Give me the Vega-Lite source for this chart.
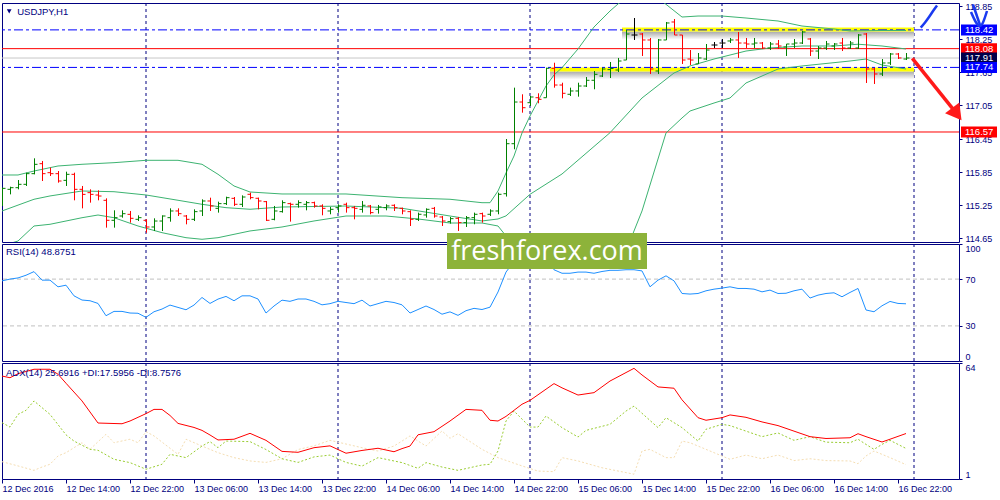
{
"$schema": "https://vega.github.io/schema/vega-lite/v6.json",
"background": "white",
"padding": {"left": 1, "top": -2, "right": 0, "bottom": 0},
"spacing": 2,
"bounds": "flush",
"config": {
  "view": {"stroke": "#000080", "strokeWidth": 1},
  "axis": {"labelFont": "Liberation Sans", "labelFontSize": 9, "labelColor": "#000080", "tickColor": "#000080", "labelOverlap": false},
  "text": {"font": "Liberation Sans"}
},
"datasets": {
  "seps": [{"bar": 18}, {"bar": 42}, {"bar": 66}, {"bar": 90}, {"bar": 114}],
  "zones": [{"start": 77.5, "end": 114, "high": 118.463, "low": 118.39}, {"start": 68.5, "end": 114, "high": 117.74, "low": 117.668}],
  "levels": [{"price": 118.42, "kind": "level"}, {"price": 118.08, "kind": "red"}, {"price": 117.91, "kind": "bid"}, {"price": 117.74, "kind": "level"}, {"price": 116.57, "kind": "red"}],
  "arrows": [
    {"id": "red", "k": 0, "bar": 113.79, "price": 117.905}, {"id": "red", "k": 1, "bar": 119.36, "price": 116.897},
    {"id": "blueA", "k": 0, "bar": 114.84, "price": 118.46}, {"id": "blueA", "k": 1, "bar": 115.38, "price": 118.554}, {"id": "blueA", "k": 2, "bar": 115.88, "price": 118.653}, {"id": "blueA", "k": 3, "bar": 116.38, "price": 118.762}, {"id": "blueA", "k": 4, "bar": 116.88, "price": 118.862},
    {"id": "blueB", "k": 0, "bar": 121.375, "price": 118.88}, {"id": "blueB", "k": 1, "bar": 122.25, "price": 118.508},
    {"id": "blueC", "k": 0, "bar": 121.125, "price": 118.744}, {"id": "blueC", "k": 1, "bar": 122.25, "price": 118.49}, {"id": "blueC", "k": 2, "bar": 123.125, "price": 118.762}
  ],
  "bars": [
    {"bar":0,"open":115.501,"high":115.561,"low":115.229,"close":115.549},
    {"bar":1,"open":115.531,"high":115.579,"low":115.44,"close":115.561},
    {"bar":2,"open":115.561,"high":115.7,"low":115.531,"close":115.622},
    {"bar":3,"open":115.622,"high":115.833,"low":115.592,"close":115.815},
    {"bar":4,"open":115.815,"high":116.093,"low":115.803,"close":115.984},
    {"bar":5,"open":115.996,"high":116.045,"low":115.682,"close":115.815},
    {"bar":6,"open":115.833,"high":115.924,"low":115.773,"close":115.815},
    {"bar":7,"open":115.815,"high":115.863,"low":115.652,"close":115.682},
    {"bar":8,"open":115.694,"high":115.851,"low":115.592,"close":115.803},
    {"bar":9,"open":115.803,"high":115.833,"low":115.332,"close":115.531},
    {"bar":10,"open":115.531,"high":115.592,"low":115.187,"close":115.44},
    {"bar":11,"open":115.471,"high":115.531,"low":115.29,"close":115.44},
    {"bar":12,"open":115.428,"high":115.513,"low":115.332,"close":115.41},
    {"bar":13,"open":115.332,"high":115.368,"low":114.837,"close":114.97},
    {"bar":14,"open":114.97,"high":115.151,"low":114.837,"close":115.018},
    {"bar":15,"open":115.048,"high":115.151,"low":115.018,"close":115.09},
    {"bar":16,"open":115.078,"high":115.139,"low":114.927,"close":115.006},
    {"bar":17,"open":114.988,"high":115.06,"low":114.957,"close":115.018},
    {"bar":18,"open":114.97,"high":114.988,"low":114.746,"close":114.849},
    {"bar":19,"open":114.849,"high":115.006,"low":114.776,"close":114.957},
    {"bar":20,"open":114.957,"high":115.06,"low":114.776,"close":115.048},
    {"bar":21,"open":115.018,"high":115.187,"low":114.945,"close":115.139},
    {"bar":22,"open":115.139,"high":115.187,"low":115.048,"close":115.09},
    {"bar":23,"open":115.048,"high":115.066,"low":114.897,"close":114.988},
    {"bar":24,"open":114.988,"high":115.169,"low":114.957,"close":115.127},
    {"bar":25,"open":115.139,"high":115.35,"low":115.048,"close":115.32},
    {"bar":26,"open":115.32,"high":115.38,"low":115.139,"close":115.229},
    {"bar":27,"open":115.187,"high":115.308,"low":115.109,"close":115.272},
    {"bar":28,"open":115.272,"high":115.398,"low":115.247,"close":115.38},
    {"bar":29,"open":115.368,"high":115.392,"low":115.229,"close":115.26},
    {"bar":30,"open":115.26,"high":115.422,"low":115.211,"close":115.392},
    {"bar":31,"open":115.441,"high":115.471,"low":115.35,"close":115.381},
    {"bar":32,"open":115.369,"high":115.381,"low":115.169,"close":115.32},
    {"bar":33,"open":115.308,"high":115.32,"low":114.958,"close":114.97},
    {"bar":34,"open":114.988,"high":115.23,"low":114.97,"close":115.139},
    {"bar":35,"open":115.127,"high":115.332,"low":115.109,"close":115.29},
    {"bar":36,"open":115.272,"high":115.29,"low":114.946,"close":115.26},
    {"bar":37,"open":115.26,"high":115.332,"low":115.199,"close":115.29},
    {"bar":38,"open":115.26,"high":115.32,"low":115.151,"close":115.29},
    {"bar":39,"open":115.29,"high":115.308,"low":115.199,"close":115.23},
    {"bar":40,"open":115.23,"high":115.26,"low":115.061,"close":115.187},
    {"bar":41,"open":115.139,"high":115.212,"low":115.079,"close":115.169},
    {"bar":42,"open":115.199,"high":115.26,"low":115.109,"close":115.23},
    {"bar":43,"open":115.26,"high":115.29,"low":115.109,"close":115.199},
    {"bar":44,"open":115.199,"high":115.23,"low":114.988,"close":115.187},
    {"bar":45,"open":115.169,"high":115.32,"low":115.109,"close":115.242},
    {"bar":46,"open":115.23,"high":115.248,"low":115.079,"close":115.109},
    {"bar":47,"open":115.169,"high":115.248,"low":115.091,"close":115.212},
    {"bar":48,"open":115.199,"high":115.26,"low":115.151,"close":115.23},
    {"bar":49,"open":115.242,"high":115.26,"low":115.139,"close":115.199},
    {"bar":50,"open":115.187,"high":115.199,"low":115.079,"close":115.139},
    {"bar":51,"open":115.127,"high":115.151,"low":114.867,"close":114.988},
    {"bar":52,"open":114.988,"high":115.109,"low":114.958,"close":115.079},
    {"bar":53,"open":115.067,"high":115.187,"low":115.018,"close":115.169},
    {"bar":54,"open":115.187,"high":115.212,"low":115.018,"close":115.048},
    {"bar":55,"open":115.03,"high":115.048,"low":114.867,"close":114.958},
    {"bar":56,"open":114.946,"high":115.03,"low":114.91,"close":115.0},
    {"bar":57,"open":115.006,"high":115.03,"low":114.777,"close":114.928},
    {"bar":58,"open":114.928,"high":115.048,"low":114.849,"close":115.018},
    {"bar":59,"open":115.018,"high":115.109,"low":114.898,"close":115.079},
    {"bar":60,"open":115.091,"high":115.109,"low":114.928,"close":115.048},
    {"bar":61,"open":115.079,"high":115.169,"low":115.048,"close":115.139},
    {"bar":62,"open":115.139,"high":115.471,"low":115.079,"close":115.441},
    {"bar":63,"open":115.452,"high":116.443,"low":115.4,"close":116.358},
    {"bar":64,"open":116.358,"high":117.373,"low":116.257,"close":117.113},
    {"bar":65,"open":117.113,"high":117.253,"low":116.92,"close":117.01},
    {"bar":66,"open":117.101,"high":117.222,"low":117.041,"close":117.204},
    {"bar":67,"open":117.191,"high":117.271,"low":117.09,"close":117.162},
    {"bar":68,"open":117.191,"high":117.735,"low":117.191,"close":117.724},
    {"bar":69,"open":117.724,"high":117.825,"low":117.373,"close":117.421},
    {"bar":70,"open":117.421,"high":117.463,"low":117.18,"close":117.271},
    {"bar":71,"open":117.253,"high":117.373,"low":117.222,"close":117.313},
    {"bar":72,"open":117.313,"high":117.463,"low":117.21,"close":117.403},
    {"bar":73,"open":117.403,"high":117.566,"low":117.385,"close":117.507},
    {"bar":74,"open":117.507,"high":117.675,"low":117.344,"close":117.615},
    {"bar":75,"open":117.584,"high":117.735,"low":117.566,"close":117.711},
    {"bar":76,"open":117.7,"high":117.838,"low":117.548,"close":117.72},
    {"bar":77,"open":117.693,"high":117.911,"low":117.657,"close":117.856},
    {"bar":78,"open":117.874,"high":118.418,"low":117.874,"close":118.345},
    {"bar":79,"open":118.327,"high":118.635,"low":118.237,"close":118.327},
    {"bar":80,"open":118.345,"high":118.363,"low":117.947,"close":118.237},
    {"bar":81,"open":118.237,"high":118.273,"low":117.621,"close":117.711},
    {"bar":82,"open":117.675,"high":118.255,"low":117.621,"close":118.237},
    {"bar":83,"open":118.237,"high":118.563,"low":118.237,"close":118.545},
    {"bar":84,"open":118.563,"high":118.617,"low":118.327,"close":118.327},
    {"bar":85,"open":118.327,"high":118.327,"low":117.802,"close":117.874},
    {"bar":86,"open":117.892,"high":118.055,"low":117.784,"close":117.874},
    {"bar":87,"open":117.802,"high":118.001,"low":117.802,"close":117.911},
    {"bar":88,"open":117.892,"high":118.164,"low":117.874,"close":118.055},
    {"bar":89,"open":118.146,"high":118.2,"low":118.092,"close":118.146},
    {"bar":90,"open":118.182,"high":118.255,"low":118.092,"close":118.182},
    {"bar":91,"open":118.219,"high":118.273,"low":118.182,"close":118.237},
    {"bar":92,"open":118.237,"high":118.382,"low":117.911,"close":118.182},
    {"bar":93,"open":118.182,"high":118.273,"low":118.092,"close":118.164},
    {"bar":94,"open":118.164,"high":118.273,"low":118.092,"close":118.182},
    {"bar":95,"open":118.182,"high":118.2,"low":118.074,"close":118.092},
    {"bar":96,"open":118.092,"high":118.2,"low":118.056,"close":118.164},
    {"bar":97,"open":118.164,"high":118.237,"low":118.074,"close":118.128},
    {"bar":98,"open":118.11,"high":118.164,"low":117.947,"close":118.164},
    {"bar":99,"open":118.164,"high":118.255,"low":118.092,"close":118.182},
    {"bar":100,"open":118.182,"high":118.4,"low":118.164,"close":118.382},
    {"bar":101,"open":118.255,"high":118.273,"low":117.947,"close":118.037},
    {"bar":102,"open":118.037,"high":118.128,"low":117.892,"close":118.092},
    {"bar":103,"open":118.092,"high":118.219,"low":118.056,"close":118.164},
    {"bar":104,"open":118.128,"high":118.182,"low":118.056,"close":118.164},
    {"bar":105,"open":118.182,"high":118.273,"low":118.037,"close":118.092},
    {"bar":106,"open":118.092,"high":118.219,"low":118.074,"close":118.182},
    {"bar":107,"open":118.092,"high":118.345,"low":118.074,"close":118.327},
    {"bar":108,"open":118.345,"high":118.363,"low":117.458,"close":117.711},
    {"bar":109,"open":117.711,"high":117.729,"low":117.44,"close":117.621},
    {"bar":110,"open":117.621,"high":117.892,"low":117.584,"close":117.82},
    {"bar":111,"open":117.82,"high":118.001,"low":117.784,"close":117.983},
    {"bar":112,"open":117.983,"high":118.001,"low":117.892,"close":117.911},
    {"bar":113,"open":117.892,"high":118.001,"low":117.874,"close":117.91}
  ],
  "bands": [
    {"bar":0,"band":"u","value":115.791},{"bar":2,"band":"u","value":115.791},{"bar":4,"band":"u","value":115.863},{"bar":7,"band":"u","value":115.954},{"bar":10,"band":"u","value":115.985},{"bar":14,"band":"u","value":116.014},{"bar":18,"band":"u","value":116.057},{"bar":22,"band":"u","value":116.057},{"bar":25,"band":"u","value":115.985},{"bar":27,"band":"u","value":115.804},{"bar":29,"band":"u","value":115.592},{"bar":31,"band":"u","value":115.483},{"bar":35,"band":"u","value":115.447},{"bar":43,"band":"u","value":115.447},{"bar":50,"band":"u","value":115.38},{"bar":56,"band":"u","value":115.351},{"bar":60,"band":"u","value":115.289},{"bar":61,"band":"u","value":115.289},{"bar":62,"band":"u","value":115.501},{"bar":63,"band":"u","value":115.827},{"bar":64,"band":"u","value":116.135},{"bar":65,"band":"u","value":116.552},{"bar":66,"band":"u","value":116.86},{"bar":67,"band":"u","value":117.132},{"bar":68,"band":"u","value":117.403},{"bar":69,"band":"u","value":117.603},{"bar":70,"band":"u","value":117.735},{"bar":72,"band":"u","value":118.074},{"bar":74,"band":"u","value":118.472},{"bar":76,"band":"u","value":118.762},{"bar":77,"band":"u","value":118.889},{"bar":78,"band":"u","value":118.998},{"bar":80,"band":"u","value":119.088},{"bar":82,"band":"u","value":118.998},{"bar":83,"band":"u","value":118.883},{"bar":85,"band":"u","value":118.653},{"bar":87,"band":"u","value":118.671},{"bar":90,"band":"u","value":118.671},{"bar":93,"band":"u","value":118.635},{"bar":97,"band":"u","value":118.581},{"bar":100,"band":"u","value":118.49},{"bar":104,"band":"u","value":118.436},{"bar":106,"band":"u","value":118.4},{"bar":110,"band":"u","value":118.409},{"bar":113,"band":"u","value":118.409},
    {"bar":0,"band":"m","value":115.139},{"bar":4,"band":"m","value":115.351},{"bar":6,"band":"m","value":115.411},{"bar":10,"band":"m","value":115.501},{"bar":14,"band":"m","value":115.488},{"bar":18,"band":"m","value":115.429},{"bar":22,"band":"m","value":115.333},{"bar":25,"band":"m","value":115.26},{"bar":28,"band":"m","value":115.199},{"bar":31,"band":"m","value":115.17},{"bar":35,"band":"m","value":115.211},{"bar":43,"band":"m","value":115.229},{"bar":50,"band":"m","value":115.188},{"bar":56,"band":"m","value":115.048},{"bar":60,"band":"m","value":114.958},{"bar":62,"band":"m","value":114.994},{"bar":63,"band":"m","value":115.05},{"bar":66,"band":"m","value":115.441},{"bar":70,"band":"m","value":115.809},{"bar":76,"band":"m","value":116.557},{"bar":80,"band":"m","value":117.186},{"bar":84,"band":"m","value":117.639},{"bar":86,"band":"m","value":117.766},{"bar":89,"band":"m","value":117.892},{"bar":93,"band":"m","value":118.037},{"bar":96,"band":"m","value":118.092},{"bar":100,"band":"m","value":118.128},{"bar":104,"band":"m","value":118.128},{"bar":107,"band":"m","value":118.16},{"bar":110,"band":"m","value":118.128},{"bar":113,"band":"m","value":118.074},
    {"bar":0,"band":"l","value":114.505},{"bar":2,"band":"l","value":114.595},{"bar":4,"band":"l","value":114.867},{"bar":6,"band":"l","value":114.898},{"bar":10,"band":"l","value":115.017},{"bar":12,"band":"l","value":115.066},{"bar":14,"band":"l","value":115.017},{"bar":17,"band":"l","value":114.867},{"bar":20,"band":"l","value":114.746},{"bar":23,"band":"l","value":114.655},{"bar":25,"band":"l","value":114.626},{"bar":27,"band":"l","value":114.655},{"bar":31,"band":"l","value":114.777},{"bar":35,"band":"l","value":114.849},{"bar":39,"band":"l","value":114.958},{"bar":43,"band":"l","value":115.048},{"bar":48,"band":"l","value":115.048},{"bar":52,"band":"l","value":114.994},{"bar":56,"band":"l","value":114.921},{"bar":60,"band":"l","value":114.921},{"bar":62,"band":"l","value":114.867},{"bar":64,"band":"l","value":114.505},{"bar":68,"band":"l","value":114.052},{"bar":74,"band":"l","value":113.961},{"bar":78,"band":"l","value":114.414},{"bar":80,"band":"l","value":115.139},{"bar":83,"band":"l","value":116.552},{"bar":85,"band":"l","value":116.824},{"bar":86,"band":"l","value":116.95},{"bar":89,"band":"l","value":117.095},{"bar":91,"band":"l","value":117.186},{"bar":93,"band":"l","value":117.458},{"bar":97,"band":"l","value":117.711},{"bar":100,"band":"l","value":117.766},{"bar":106,"band":"l","value":117.856},{"bar":108,"band":"l","value":117.892},{"bar":110,"band":"l","value":117.784},{"bar":113,"band":"l","value":117.711}
  ],
  "rsi": [
    {"bar":0,"rsi":68.5},{"bar":1,"rsi":70},{"bar":2,"rsi":71},{"bar":3,"rsi":73.3},{"bar":4,"rsi":76.4},{"bar":5,"rsi":69.1},{"bar":6,"rsi":69.1},{"bar":7,"rsi":63.4},{"bar":8,"rsi":64.8},{"bar":9,"rsi":55.7},{"bar":10,"rsi":52.1},{"bar":11,"rsi":51.5},{"bar":12,"rsi":49.2},{"bar":13,"rsi":38.7},{"bar":14,"rsi":42.4},{"bar":15,"rsi":42.4},{"bar":16,"rsi":41},{"bar":17,"rsi":40.8},{"bar":18,"rsi":37.3},{"bar":19,"rsi":42.1},{"bar":20,"rsi":44.4},{"bar":21,"rsi":47.8},{"bar":22,"rsi":45.8},{"bar":23,"rsi":43.8},{"bar":24,"rsi":47.8},{"bar":25,"rsi":54.3},{"bar":26,"rsi":49.2},{"bar":27,"rsi":52.9},{"bar":28,"rsi":55.2},{"bar":29,"rsi":51.5},{"bar":30,"rsi":55.7},{"bar":31,"rsi":55.7},{"bar":32,"rsi":53},{"bar":33,"rsi":41},{"bar":34,"rsi":47},{"bar":35,"rsi":52},{"bar":36,"rsi":51},{"bar":37,"rsi":53},{"bar":38,"rsi":53},{"bar":39,"rsi":51},{"bar":40,"rsi":48},{"bar":41,"rsi":49},{"bar":42,"rsi":51},{"bar":43,"rsi":50},{"bar":44,"rsi":49},{"bar":45,"rsi":52},{"bar":46,"rsi":47},{"bar":47,"rsi":49},{"bar":48,"rsi":51},{"bar":49,"rsi":50},{"bar":50,"rsi":48},{"bar":51,"rsi":41},{"bar":52,"rsi":44},{"bar":53,"rsi":47},{"bar":54,"rsi":44},{"bar":55,"rsi":40},{"bar":56,"rsi":42},{"bar":57,"rsi":39},{"bar":58,"rsi":43},{"bar":59,"rsi":45},{"bar":60,"rsi":44},{"bar":61,"rsi":46},{"bar":62,"rsi":59},{"bar":63,"rsi":76},{"bar":64,"rsi":85},{"bar":65,"rsi":81},{"bar":66,"rsi":83},{"bar":67,"rsi":82},{"bar":68,"rsi":87},{"bar":69,"rsi":78},{"bar":70,"rsi":75},{"bar":71,"rsi":75},{"bar":72,"rsi":76},{"bar":73,"rsi":76},{"bar":74,"rsi":75},{"bar":75,"rsi":76.5},{"bar":76,"rsi":77.5},{"bar":77,"rsi":77.5},{"bar":78,"rsi":78},{"bar":79,"rsi":78},{"bar":80,"rsi":77},{"bar":81,"rsi":63.4},{"bar":82,"rsi":69.1},{"bar":83,"rsi":72.8},{"bar":84,"rsi":68.5},{"bar":85,"rsi":57.7},{"bar":86,"rsi":57.2},{"bar":87,"rsi":57.7},{"bar":88,"rsi":60},{"bar":89,"rsi":61.4},{"bar":90,"rsi":62.3},{"bar":91,"rsi":63.4},{"bar":92,"rsi":62},{"bar":93,"rsi":62},{"bar":94,"rsi":61.4},{"bar":95,"rsi":59.1},{"bar":96,"rsi":60.6},{"bar":97,"rsi":57.7},{"bar":98,"rsi":57.9},{"bar":99,"rsi":60},{"bar":100,"rsi":61.4},{"bar":101,"rsi":53.8},{"bar":102,"rsi":56.3},{"bar":103,"rsi":57.7},{"bar":104,"rsi":58.3},{"bar":105,"rsi":54.9},{"bar":106,"rsi":58.6},{"bar":107,"rsi":62},{"bar":108,"rsi":43.6},{"bar":109,"rsi":42.1},{"bar":110,"rsi":47.2},{"bar":111,"rsi":50.9},{"bar":112,"rsi":49.2},{"bar":113,"rsi":48.9}
  ],
  "dmi": [
    {"bar":0,"line":"adx","value":56.9},{"bar":1,"line":"adx","value":56},{"bar":2,"line":"adx","value":58.2},{"bar":4,"line":"adx","value":60.6},{"bar":6,"line":"adx","value":60.6},{"bar":7,"line":"adx","value":57.9},{"bar":8,"line":"adx","value":53},{"bar":10,"line":"adx","value":43.4},{"bar":12,"line":"adx","value":31.4},{"bar":15,"line":"adx","value":31},{"bar":16,"line":"adx","value":32.5},{"bar":18,"line":"adx","value":36.5},{"bar":19,"line":"adx","value":38.8},{"bar":20,"line":"adx","value":38.8},{"bar":21,"line":"adx","value":35.5},{"bar":22,"line":"adx","value":31.2},{"bar":24,"line":"adx","value":29},{"bar":25,"line":"adx","value":27.4},{"bar":26,"line":"adx","value":24.9},{"bar":27,"line":"adx","value":22.2},{"bar":29,"line":"adx","value":22.6},{"bar":31,"line":"adx","value":25.8},{"bar":33,"line":"adx","value":22},{"bar":35,"line":"adx","value":16},{"bar":37,"line":"adx","value":15.5},{"bar":39,"line":"adx","value":18},{"bar":41,"line":"adx","value":19},{"bar":43,"line":"adx","value":15},{"bar":45,"line":"adx","value":16.5},{"bar":47,"line":"adx","value":17.7},{"bar":49,"line":"adx","value":15.8},{"bar":50,"line":"adx","value":17.5},{"bar":51,"line":"adx","value":18.9},{"bar":52,"line":"adx","value":25},{"bar":54,"line":"adx","value":26.7},{"bar":56,"line":"adx","value":32.5},{"bar":58,"line":"adx","value":38.8},{"bar":60,"line":"adx","value":38.3},{"bar":61,"line":"adx","value":32.9},{"bar":62,"line":"adx","value":32.5},{"bar":63,"line":"adx","value":35},{"bar":65,"line":"adx","value":41.6},{"bar":66,"line":"adx","value":43.7},{"bar":69,"line":"adx","value":52.8},{"bar":70,"line":"adx","value":50.5},{"bar":72,"line":"adx","value":46.6},{"bar":74,"line":"adx","value":47.9},{"bar":76,"line":"adx","value":54.2},{"bar":79,"line":"adx","value":61.1},{"bar":80,"line":"adx","value":57.5},{"bar":82,"line":"adx","value":51},{"bar":84,"line":"adx","value":50.3},{"bar":85,"line":"adx","value":44},{"bar":87,"line":"adx","value":34.3},{"bar":88,"line":"adx","value":32.9},{"bar":90,"line":"adx","value":34.3},{"bar":91,"line":"adx","value":35.8},{"bar":93,"line":"adx","value":34.5},{"bar":95,"line":"adx","value":32},{"bar":97,"line":"adx","value":30},{"bar":99,"line":"adx","value":27},{"bar":101,"line":"adx","value":24},{"bar":103,"line":"adx","value":23},{"bar":106,"line":"adx","value":23.4},{"bar":107,"line":"adx","value":25.6},{"bar":108,"line":"adx","value":24},{"bar":110,"line":"adx","value":21.1},{"bar":111,"line":"adx","value":22.6},{"bar":113,"line":"adx","value":25.7},
    {"bar":0,"line":"pdi","value":31.6},{"bar":1,"line":"pdi","value":29.2},{"bar":2,"line":"pdi","value":36.1},{"bar":3,"line":"pdi","value":38.3},{"bar":4,"line":"pdi","value":43.4},{"bar":6,"line":"pdi","value":36.1},{"bar":8,"line":"pdi","value":25},{"bar":9,"line":"pdi","value":21.6},{"bar":11,"line":"pdi","value":17.1},{"bar":12,"line":"pdi","value":16.6},{"bar":14,"line":"pdi","value":11.7},{"bar":16,"line":"pdi","value":9.9},{"bar":18,"line":"pdi","value":6.3},{"bar":20,"line":"pdi","value":9},{"bar":21,"line":"pdi","value":14.4},{"bar":22,"line":"pdi","value":13.5},{"bar":23,"line":"pdi","value":12.6},{"bar":25,"line":"pdi","value":18.9},{"bar":26,"line":"pdi","value":21.3},{"bar":27,"line":"pdi","value":18},{"bar":28,"line":"pdi","value":21.6},{"bar":31,"line":"pdi","value":21.3},{"bar":33,"line":"pdi","value":17},{"bar":35,"line":"pdi","value":12},{"bar":37,"line":"pdi","value":10},{"bar":39,"line":"pdi","value":13},{"bar":41,"line":"pdi","value":14},{"bar":43,"line":"pdi","value":10},{"bar":45,"line":"pdi","value":8},{"bar":47,"line":"pdi","value":12.6},{"bar":50,"line":"pdi","value":9.9},{"bar":52,"line":"pdi","value":6.8},{"bar":53,"line":"pdi","value":9.9},{"bar":55,"line":"pdi","value":7.5},{"bar":57,"line":"pdi","value":5.7},{"bar":60,"line":"pdi","value":8.6},{"bar":61,"line":"pdi","value":9},{"bar":62,"line":"pdi","value":16.2},{"bar":63,"line":"pdi","value":32.5},{"bar":64,"line":"pdi","value":37.9},{"bar":66,"line":"pdi","value":29.2},{"bar":67,"line":"pdi","value":29.2},{"bar":68,"line":"pdi","value":35.2},{"bar":70,"line":"pdi","value":28.9},{"bar":72,"line":"pdi","value":23.8},{"bar":73,"line":"pdi","value":27.4},{"bar":76,"line":"pdi","value":30.7},{"bar":78,"line":"pdi","value":37.9},{"bar":79,"line":"pdi","value":40.6},{"bar":82,"line":"pdi","value":28.9},{"bar":83,"line":"pdi","value":34.3},{"bar":85,"line":"pdi","value":28.9},{"bar":87,"line":"pdi","value":21.6},{"bar":88,"line":"pdi","value":28},{"bar":90,"line":"pdi","value":30.7},{"bar":91,"line":"pdi","value":30},{"bar":93,"line":"pdi","value":27},{"bar":95,"line":"pdi","value":24},{"bar":97,"line":"pdi","value":26},{"bar":99,"line":"pdi","value":22},{"bar":101,"line":"pdi","value":24},{"bar":103,"line":"pdi","value":21},{"bar":106,"line":"pdi","value":20.7},{"bar":107,"line":"pdi","value":22.6},{"bar":108,"line":"pdi","value":19.8},{"bar":109,"line":"pdi","value":17.1},{"bar":110,"line":"pdi","value":19.8},{"bar":111,"line":"pdi","value":22},{"bar":112,"line":"pdi","value":19.8},{"bar":113,"line":"pdi","value":17.6},
    {"bar":0,"line":"mdi","value":10.4},{"bar":2,"line":"mdi","value":8.1},{"bar":4,"line":"mdi","value":5.7},{"bar":5,"line":"mdi","value":7.5},{"bar":6,"line":"mdi","value":9},{"bar":7,"line":"mdi","value":13.5},{"bar":8,"line":"mdi","value":15.3},{"bar":10,"line":"mdi","value":20.7},{"bar":11,"line":"mdi","value":17.1},{"bar":13,"line":"mdi","value":25.3},{"bar":14,"line":"mdi","value":20.7},{"bar":16,"line":"mdi","value":22.6},{"bar":17,"line":"mdi","value":20.7},{"bar":18,"line":"mdi","value":26.7},{"bar":19,"line":"mdi","value":24.4},{"bar":21,"line":"mdi","value":17.7},{"bar":22,"line":"mdi","value":14.4},{"bar":23,"line":"mdi","value":22.6},{"bar":25,"line":"mdi","value":18.9},{"bar":27,"line":"mdi","value":15.3},{"bar":29,"line":"mdi","value":12.6},{"bar":31,"line":"mdi","value":10.8},{"bar":33,"line":"mdi","value":10},{"bar":35,"line":"mdi","value":12},{"bar":37,"line":"mdi","value":17},{"bar":39,"line":"mdi","value":19},{"bar":41,"line":"mdi","value":22},{"bar":43,"line":"mdi","value":20},{"bar":45,"line":"mdi","value":18},{"bar":47,"line":"mdi","value":16.2},{"bar":49,"line":"mdi","value":18.9},{"bar":50,"line":"mdi","value":21.6},{"bar":51,"line":"mdi","value":24.4},{"bar":53,"line":"mdi","value":18.9},{"bar":55,"line":"mdi","value":27.1},{"bar":56,"line":"mdi","value":23.1},{"bar":57,"line":"mdi","value":25.6},{"bar":60,"line":"mdi","value":17.1},{"bar":62,"line":"mdi","value":12.6},{"bar":65,"line":"mdi","value":8.1},{"bar":67,"line":"mdi","value":5.3},{"bar":69,"line":"mdi","value":5},{"bar":70,"line":"mdi","value":12.6},{"bar":72,"line":"mdi","value":10.8},{"bar":75,"line":"mdi","value":7.1},{"bar":79,"line":"mdi","value":3.6},{"bar":80,"line":"mdi","value":16.2},{"bar":81,"line":"mdi","value":17.1},{"bar":83,"line":"mdi","value":12.6},{"bar":84,"line":"mdi","value":12.6},{"bar":85,"line":"mdi","value":21.6},{"bar":86,"line":"mdi","value":20.7},{"bar":88,"line":"mdi","value":17.1},{"bar":90,"line":"mdi","value":13.5},{"bar":91,"line":"mdi","value":11.7},{"bar":93,"line":"mdi","value":14},{"bar":95,"line":"mdi","value":12},{"bar":97,"line":"mdi","value":14},{"bar":99,"line":"mdi","value":11},{"bar":101,"line":"mdi","value":12},{"bar":103,"line":"mdi","value":11},{"bar":106,"line":"mdi","value":10.8},{"bar":107,"line":"mdi","value":9.3},{"bar":108,"line":"mdi","value":13.5},{"bar":109,"line":"mdi","value":16.2},{"bar":110,"line":"mdi","value":14.4},{"bar":111,"line":"mdi","value":12.6},{"bar":113,"line":"mdi","value":8.8}
  ]
},
"vconcat": [
  {
    "width": 957, "height": 239,
    "layer": [
      {"data": {"name": "levels"}, "transform": [{"filter": "datum.kind == 'bid'"}], "mark": {"type": "rule", "color": "#C8C8C8", "strokeWidth": 1},
       "encoding": {"y": {"field": "price", "type": "quantitative", "scale": {"domain": [114.577, 118.907], "nice": false, "zero": false},
                          "axis": {"orient": "right", "title": null, "grid": false, "domain": false, "values": [114.65, 115.25, 115.85, 116.45, 117.05, 117.65, 118.25, 118.85], "tickCount": 20, "format": ".2f", "ticks": true, "tickSize": 3, "labelPadding": 3, "labelOffset": 0.5, "labelOverlap": false}}}},
      {"data": {"name": "seps"}, "mark": {"type": "rule", "color": "#000080", "strokeDash": [3, 3], "strokeWidth": 1},
       "encoding": {"x": {"field": "bar", "type": "quantitative", "scale": {"domain": [0, 119.625], "nice": false, "zero": false}, "axis": null}}},
      {"data": {"name": "zones"}, "mark": {"type": "rect", "y2Offset": 8, "clip": true, "color": {"gradient": "linear", "x1": 0, "y1": 0, "x2": 0, "y2": 1, "stops": [{"offset": 0, "color": "#a8a8a8"}, {"offset": 1, "color": "#ffffff"}]}},
       "encoding": {"x": {"field": "start", "type": "quantitative", "axis": null}, "x2": {"field": "end"},
                    "y": {"field": "low", "type": "quantitative"}, "y2": {"field": "low"}}},
      {"data": {"name": "zones"}, "mark": {"type": "rect", "color": "#FFFF00", "clip": true},
       "encoding": {"x": {"field": "start", "type": "quantitative", "axis": null}, "x2": {"field": "end"},
                    "y": {"field": "high", "type": "quantitative"}, "y2": {"field": "low"}}},
      {"data": {"name": "levels"}, "transform": [{"filter": "datum.kind == 'red'"}], "mark": {"type": "rule", "color": "#FF0000", "strokeWidth": 1},
       "encoding": {"y": {"field": "price", "type": "quantitative"}}},
      {"data": {"name": "levels"}, "transform": [{"filter": "datum.kind == 'level'"}], "mark": {"type": "rule", "color": "#0000FF", "strokeWidth": 1, "strokeDash": [9, 3, 3, 3]},
       "encoding": {"y": {"field": "price", "type": "quantitative"}}},
      {"data": {"name": "bands"}, "mark": {"type": "line", "color": "#3CB371", "strokeWidth": 1, "clip": true},
       "encoding": {"x": {"field": "bar", "type": "quantitative", "axis": null},
                    "y": {"field": "value", "type": "quantitative"},
                    "detail": {"field": "band"}}},
      {"data": {"name": "bars"}, "mark": {"type": "rule", "strokeWidth": 1, "clip": true, "xOffset": 0.5},
       "encoding": {"x": {"field": "bar", "type": "quantitative", "axis": null},
                    "y": {"field": "low", "type": "quantitative"},
                    "y2": {"field": "high"},
                    "color": {"condition": [{"test": "datum.close > datum.open", "value": "#008000"}, {"test": "datum.close < datum.open", "value": "#FF0000"}], "value": "#000000"}}},
      {"data": {"name": "bars"}, "mark": {"type": "rule", "strokeWidth": 1, "clip": true, "xOffset": -2.5, "x2Offset": 0.5},
       "encoding": {"x": {"field": "bar", "type": "quantitative", "axis": null}, "x2": {"field": "bar"},
                    "y": {"field": "open", "type": "quantitative"},
                    "color": {"condition": [{"test": "datum.close > datum.open", "value": "#008000"}, {"test": "datum.close < datum.open", "value": "#FF0000"}], "value": "#000000"}}},
      {"data": {"name": "bars"}, "mark": {"type": "rule", "strokeWidth": 1, "clip": true, "xOffset": 0.5, "x2Offset": 3.5},
       "encoding": {"x": {"field": "bar", "type": "quantitative", "axis": null}, "x2": {"field": "bar"},
                    "y": {"field": "close", "type": "quantitative"},
                    "color": {"condition": [{"test": "datum.close > datum.open", "value": "#008000"}, {"test": "datum.close < datum.open", "value": "#FF0000"}], "value": "#000000"}}},
      {"data": {"values": [{}]}, "mark": {"type": "text", "text": "USDJPY,H1", "align": "left", "baseline": "middle", "fontSize": 9.5, "color": "#000080"},
       "encoding": {"x": {"datum": 1.9, "type": "quantitative", "axis": null}, "y": {"datum": 118.744, "type": "quantitative"}}},
      {"data": {"values": [{}]}, "mark": {"type": "point", "shape": "triangle-down", "filled": true, "size": 22, "color": "#000080", "opacity": 1},
       "encoding": {"x": {"datum": 0.9, "type": "quantitative", "axis": null}, "y": {"datum": 118.755, "type": "quantitative"}}},
      {"data": {"name": "levels"}, "mark": {"type": "rect", "yOffset": -5.5, "y2Offset": 5.5},
       "encoding": {"x": {"datum": 119.875, "type": "quantitative", "axis": null}, "x2": {"datum": 124.375},
                    "y": {"field": "price", "type": "quantitative"}, "y2": {"field": "price"},
                    "color": {"field": "kind", "type": "nominal", "scale": {"domain": ["level", "red", "bid"], "range": ["#0000FF", "#FF0000", "#00004A"]}, "legend": null}}},
      {"data": {"name": "levels"}, "mark": {"type": "text", "align": "left", "baseline": "middle", "fontSize": 9.5, "color": "white"},
       "encoding": {"x": {"datum": 120.375, "type": "quantitative", "axis": null},
                    "y": {"field": "price", "type": "quantitative"},
                    "text": {"field": "price", "type": "quantitative", "format": ".2f"}}},
      {"data": {"name": "arrows"}, "transform": [{"filter": "datum.id == 'red'"}], "mark": {"type": "line", "color": "#FF1A1A", "strokeWidth": 3.5},
       "encoding": {"x": {"field": "bar", "type": "quantitative", "axis": null},
                    "y": {"field": "price", "type": "quantitative"},
                    "order": {"field": "k"}}},
      {"data": {"name": "arrows"}, "transform": [{"filter": "datum.id == 'red' && datum.k == 1"}], "mark": {"type": "point", "shape": "triangle-down", "filled": true, "size": 320, "angle": 323, "color": "#FF1A1A", "opacity": 1},
       "encoding": {"x": {"field": "bar", "type": "quantitative", "axis": null},
                    "y": {"field": "price", "type": "quantitative"}}},
      {"data": {"name": "arrows"}, "transform": [{"filter": "datum.id != 'red'"}], "mark": {"type": "line", "color": "#1A3AF0", "strokeWidth": 2.5, "interpolate": "monotone"},
       "encoding": {"x": {"field": "bar", "type": "quantitative", "axis": null},
                    "y": {"field": "price", "type": "quantitative"},
                    "detail": {"field": "id"}, "order": {"field": "k"}}}
    ]
  },
  {
    "width": 957, "height": 117,
    "layer": [
      {"data": {"values": [{"level": 70}, {"level": 30}]}, "mark": {"type": "rule", "color": "#C0C0C0", "strokeDash": [4, 3], "strokeWidth": 1},
       "encoding": {"y": {"field": "level", "type": "quantitative", "scale": {"domain": [0, 100], "nice": false, "zero": false},
                          "axis": {"orient": "right", "title": null, "grid": false, "domain": false, "values": [0, 30, 70, 100], "tickCount": 20, "ticks": true, "tickSize": 3, "labelPadding": 3, "labelFlush": true, "labelOverlap": false}}}},
      {"data": {"name": "seps"}, "mark": {"type": "rule", "color": "#000080", "strokeDash": [3, 3], "strokeWidth": 1},
       "encoding": {"x": {"field": "bar", "type": "quantitative", "scale": {"domain": [0, 119.625], "nice": false, "zero": false}, "axis": null}}},
      {"data": {"name": "rsi"}, "mark": {"type": "line", "color": "#1E90FF", "strokeWidth": 1, "clip": true},
       "encoding": {"x": {"field": "bar", "type": "quantitative", "axis": null},
                    "y": {"field": "rsi", "type": "quantitative"}}},
      {"data": {"values": [{}]}, "mark": {"type": "text", "text": "RSI(14) 48.8751", "align": "left", "baseline": "middle", "fontSize": 9.5, "color": "#000080"},
       "encoding": {"x": {"datum": 0.5, "type": "quantitative", "axis": null}, "y": {"datum": 93.2, "type": "quantitative"}}},
      {"data": {"values": [{}]}, "mark": {"type": "rect", "color": "#8DB33A"},
       "encoding": {"x": {"datum": 55.625, "type": "quantitative", "axis": null}, "x2": {"datum": 80.625},
                    "y": {"datum": 109.4, "type": "quantitative"}, "y2": {"datum": 78.6}}},
      {"data": {"values": [{}]}, "mark": {"type": "text", "text": "freshforex.com", "align": "center", "baseline": "middle", "font": "Open Sans", "fontSize": 27, "color": "white"},
       "encoding": {"x": {"datum": 68.125, "type": "quantitative", "axis": null}, "y": {"datum": 93.2, "type": "quantitative"}}}
    ]
  },
  {
    "width": 957, "height": 116,
    "layer": [
      {"data": {"name": "seps"}, "mark": {"type": "rule", "color": "#000080", "strokeDash": [3, 3], "strokeWidth": 1},
       "encoding": {"x": {"field": "bar", "type": "quantitative", "scale": {"domain": [0, 119.625], "nice": false, "zero": false},
                          "axis": {"orient": "bottom", "title": null, "grid": false, "domain": false, "values": [0, 8, 16, 24, 32, 40, 48, 56, 64, 72, 80, 88, 96, 104, 112], "tickCount": 30, "labelAlign": "left", "labelFlush": false, "labelOverlap": false, "labelPadding": 1, "tickSize": 4,
                                   "labelExpr": "datum.value == 0 ? '12 Dec 2016' : (12 + floor((datum.value + 6) / 24)) + ' Dec ' + (((datum.value + 6) % 24) < 10 ? '0' : '') + ((datum.value + 6) % 24) + ':00'"}}}},
      {"data": {"name": "dmi"}, "transform": [{"filter": "datum.line == 'mdi'"}], "mark": {"type": "line", "color": "#F5DEB3", "strokeWidth": 1, "strokeDash": [2, 2], "clip": true},
       "encoding": {"x": {"field": "bar", "type": "quantitative"},
                    "y": {"field": "value", "type": "quantitative", "scale": {"domain": [1, 64], "nice": false, "zero": false},
                          "axis": {"orient": "right", "title": null, "grid": false, "domain": false, "values": [1, 64], "tickCount": 10, "ticks": true, "tickSize": 3, "labelPadding": 3, "labelFlush": true, "labelOverlap": false}}}},
      {"data": {"name": "dmi"}, "transform": [{"filter": "datum.line == 'pdi'"}], "mark": {"type": "line", "color": "#9ACD32", "strokeWidth": 1, "strokeDash": [2, 2], "clip": true},
       "encoding": {"x": {"field": "bar", "type": "quantitative"}, "y": {"field": "value", "type": "quantitative"}}},
      {"data": {"name": "dmi"}, "transform": [{"filter": "datum.line == 'adx'"}], "mark": {"type": "line", "color": "#FF0000", "strokeWidth": 1, "clip": true},
       "encoding": {"x": {"field": "bar", "type": "quantitative"}, "y": {"field": "value", "type": "quantitative"}}},
      {"data": {"values": [{}]}, "mark": {"type": "text", "text": "ADX(14) 25.6916 +DI:17.5956 -DI:8.7576", "align": "left", "baseline": "middle", "fontSize": 9.5, "color": "#000080"},
       "encoding": {"x": {"datum": 0.5, "type": "quantitative"}, "y": {"datum": 58.6, "type": "quantitative"}}}
    ]
  }
]
}
